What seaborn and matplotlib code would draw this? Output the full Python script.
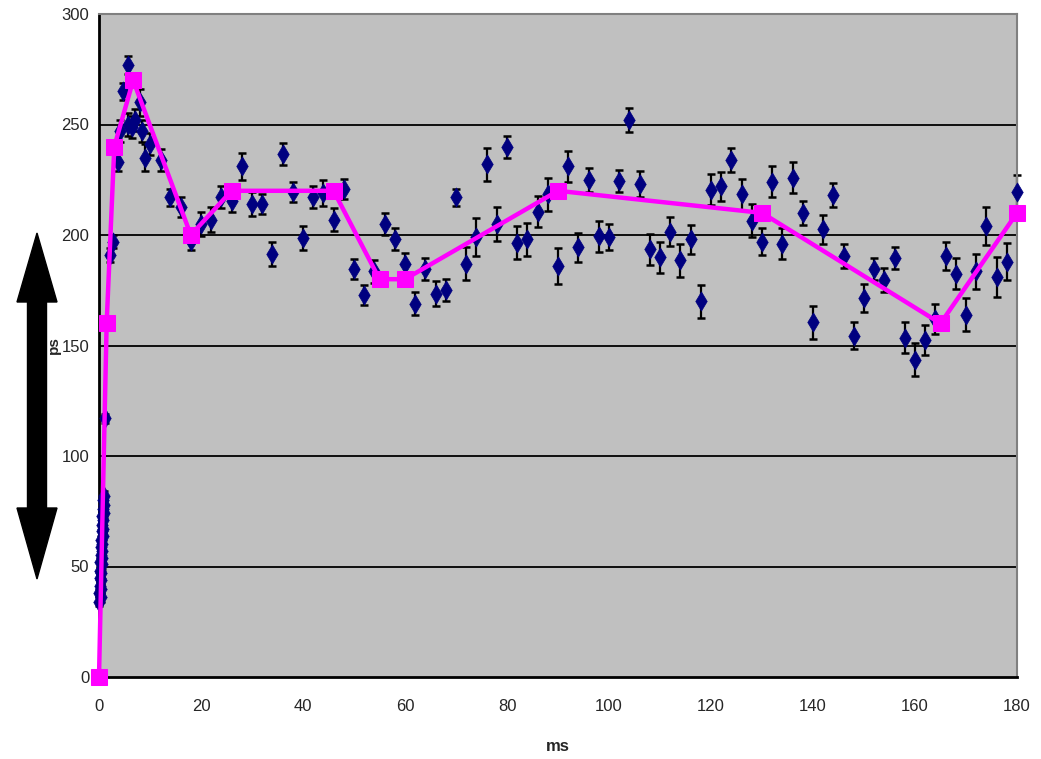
import matplotlib
matplotlib.use("Agg")
import matplotlib.pyplot as plt
from matplotlib import font_manager
from matplotlib.patches import Polygon
import pandas as pd
import seaborn as sns

# --- measured samples (time in ms, value in ps, +/- error) ---
burst_ms = [0.0, 0.3, 0.05, 0.35, 0.1, 0.4, 0.15, 0.45, 0.2, 0.5, 0.25, 0.55,
            0.3, 0.6, 0.35, 0.65, 0.45, 0.75, 0.5, 0.8, 0.55, 0.85, 0.6, 0.9,
            0.7, 1.0, 0.75, 0.95]
burst_ps = [34, 36, 38, 40, 41, 44, 45, 47, 48, 51, 52, 54,
            55, 57, 59, 60, 62, 64, 66, 67, 69, 71, 73, 74,
            76, 78, 80, 82]
burst_err = [2] * len(burst_ps)

rise_ms = [1.2, 2.2, 2.8, 3.8, 4.1, 4.8, 5.75, 5.75, 6.5, 7.1, 8.0, 8.4, 9.0, 10.0, 12.2]
rise_ps = [117, 191, 197, 233, 247, 265, 277, 250, 249, 252, 260, 247, 235, 241, 234]
rise_err = [2, 3, 3, 4, 5, 4, 4, 5, 5, 5, 6, 5, 6, 5, 5]

steady_ms = list(range(14, 182, 2))
steady_ps = [217, 212.5, 197.5, 205, 207, 217, 215.5, 231, 214, 214,
             191.5, 236.5, 219.5, 198.5, 217, 219, 207, 221, 184.5, 173,
             183.5, 205, 198, 187, 169, 184.5, 173.5, 175, 217, 187,
             199, 232, 205, 240, 196.5, 198, 210.5, 218.5, 186, 231,
             194.5, 225, 199.5, 199, 224.5, 252, 223, 193.5, 190, 201.5,
             188.5, 198, 170, 220.5, 222, 234, 218.5, 206.5, 197, 224,
             196, 226, 210, 160.5, 202.5, 218, 190.5, 154.5, 171.5, 184.5,
             179.5, 189.5, 153.5, 143.5, 152.5, 162, 190.5, 182.5, 164, 183.5,
             204, 181, 188, 219.5]
steady_err = [4, 4.5, 4.5, 5.5, 5.5, 5, 5, 6, 5.5, 4.5,
              5.5, 5, 4.5, 5.5, 5, 6, 5, 4.5, 4.5, 4.5,
              5, 5, 5, 5, 5, 5, 5.5, 5, 4, 7.5,
              8.5, 7.5, 7.5, 5, 7.5, 7.5, 7, 7.5, 8, 7,
              6.5, 5.5, 7, 6, 5, 5.5, 6, 7, 7, 6.5,
              7.5, 6.5, 7.5, 7, 6.5, 5.5, 7, 7.5, 6, 7,
              7, 7, 5.5, 7.5, 6.5, 5.5, 5.5, 6, 6.5, 5,
              5.5, 5, 7, 7.5, 7, 7, 6.5, 7, 7.5, 8,
              8.5, 9, 8.5, 7.5]

# --- model trace ---
model_ms = [0, 1.5, 3, 6.7, 18, 26, 46, 55, 60, 90, 130, 165, 180]
model_ps = [0, 160, 240, 270, 200, 220, 220, 180, 180, 220, 210, 160, 210]

samples = pd.DataFrame({
    "ms": burst_ms + rise_ms + steady_ms,
    "ps": burst_ps + rise_ps + steady_ps,
    "err": burst_err + rise_err + steady_err,
})
model = pd.DataFrame({"ms": model_ms, "ps": model_ps})

sns.set_style("white", {"axes.facecolor": "#C0C0C0"})
installed = {f.name for f in font_manager.fontManager.ttflist}
families = [f for f in ["Liberation Sans Narrow", "Liberation Sans", "DejaVu Sans"]
            if f in installed]
plt.rcParams["font.family"] = families

fig = plt.figure(figsize=(10.41, 7.59), dpi=100)
ax = fig.add_axes([99 / 1041, 1 - 677 / 759, (1017 - 99) / 1041, (677 - 14) / 759])

ax.errorbar(samples["ms"], samples["ps"], yerr=samples["err"], fmt="none",
            ecolor="black", elinewidth=1.6, capsize=3.2, capthick=1.8, zorder=2)
sns.scatterplot(data=samples, x="ms", y="ps", marker="d", s=95, color="#000080",
                edgecolor="#000080", linewidth=0.5, ax=ax, zorder=3, legend=False)
sns.lineplot(data=model, x="ms", y="ps", color="#FF00FF", linewidth=3.2,
             marker="s", markersize=11, markeredgecolor="#FF00FF",
             ax=ax, zorder=4, legend=False)
for art in list(ax.collections) + list(ax.lines):
    art.set_clip_on(False)

ax.set_xlim(0, 180)
ax.set_ylim(0, 300)
ax.set_xticks(range(0, 181, 20))
ax.set_yticks(range(0, 301, 50))
ax.yaxis.grid(True, color="black", linewidth=1.3)
ax.set_axisbelow(True)
gl = ax.get_ygridlines()
gl[0].set_visible(False)
gl[-1].set_visible(False)

for side in ("left", "bottom"):
    ax.spines[side].set_color("black")
    ax.spines[side].set_linewidth(2)
for side in ("top", "right"):
    ax.spines[side].set_visible(True)
    ax.spines[side].set_color("#808080")
    ax.spines[side].set_linewidth(1.5)

ax.tick_params(axis="both", direction="out", length=4, width=1.8, color="black",
               labelsize=12)
ax.tick_params(axis="y", pad=3)
ax.tick_params(axis="x", pad=12)
ax.set_xlabel("ms", fontsize=12, fontweight="bold")
ax.xaxis.set_label_coords(0.5, -0.094)
ax.set_ylabel("ps", fontsize=11, fontweight="bold")
ax.yaxis.set_label_coords(-0.041, 0.5)

# double-headed arrow beside the value axis, kept underneath the axes texts
W, H = 1041, 759
pts_px = [(37, 233), (57, 302), (46.5, 302), (46.5, 508), (57, 508), (37, 579),
          (17, 508), (27.5, 508), (27.5, 302), (17, 302)]
arrow = Polygon([(x / W, 1 - y / H) for x, y in pts_px], closed=True,
                transform=fig.transFigure, facecolor="black", edgecolor="black",
                zorder=-1)
fig.add_artist(arrow)

fig.savefig("out.png", dpi=100)
